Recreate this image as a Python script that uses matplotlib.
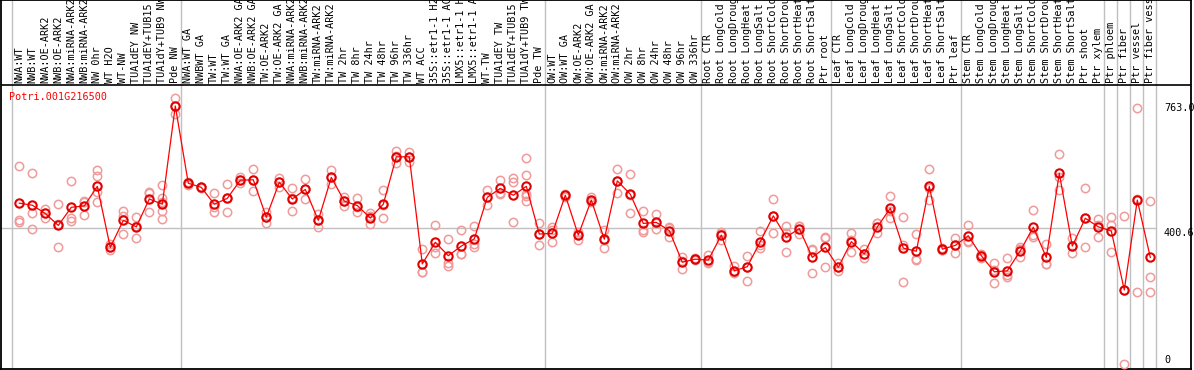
import matplotlib
matplotlib.use('Agg')
import matplotlib.pyplot as plt

# ---------------- data ----------------
title = "Potri.001G216500"
labels = [
    "NWA:WT", "NWB:WT", "NWA:OE-ARK2", "NWB:OE-ARK2", "NWA:miRNA-ARK2", "NWB:miRNA-ARK2",
    "NW 0hr", "WT H2O", "WT-NW", "TUA1dEY NW", "TUA1dEY+TUB15 NW", "TUA1dY+TUB9 NW", "Pde NW",
    "NWA:WT GA", "NWBWT GA", "TW:WT", "TW:WT GA", "NWA:OE-ARK2 GA", "NWB:OE-ARK2 GA",
    "TW:OE-ARK2", "TW:OE-ARK2 GA", "NWA:miRNA-ARK2 GA", "NWB:miRNA-ARK2 GA", "TW:miRNA-ARK2",
    "TW:miRNA-ARK2 GA", "TW 2hr", "TW 8hr", "TW 24hr", "TW 48hr", "TW 96hr", "TW 336hr",
    "WT ACC", "35S::etr1-1 H2O", "35S::etr1-1 ACC", "LMX5::etr1-1 H2O", "LMX5::etr1-1 ACC",
    "WT-TW", "TUA1dEY TW", "TUA1dEY+TUB15 TW", "TUA1dY+TUB9 TW", "Pde TW",
    "OW:WT", "OW:WT GA", "OW:OE-ARK2", "OW:OE-ARK2 GA", "OW:miRNA-ARK2", "OW:miRNA-ARK2 GA",
    "OW 2hr", "OW 8hr", "OW 24hr", "OW 48hr", "OW 96hr", "OW 336hr",
    "Root CTR", "Root LongCold", "Root LongDrought", "Root LongHeat", "Root LongSalt",
    "Root ShortCold", "Root ShortDrought", "Root ShortHeat", "Root ShortSalt", "Ptr root",
    "Leaf CTR", "Leaf LongCold", "Leaf LongDrought", "Leaf LongHeat", "Leaf LongSalt",
    "Leaf ShortCold", "Leaf ShortDrought", "Leaf ShortHeat", "Leaf ShortSalt", "Ptr leaf",
    "Stem CTR", "Stem LongCold", "Stem LongDrought", "Stem LongHeat", "Stem LongSalt",
    "Stem ShortCold", "Stem ShortDrought", "Stem ShortHeat", "Stem ShortSalt", "Ptr shoot",
    "Ptr xylem", "Ptr phloem", "Ptr fiber", "Ptr vessel", "Ptr fiber vessel",
]

means = [
    472, 466, 442, 407, 460, 464, 521, 343, 422, 403, 484, 469, 755,
    530, 518, 469, 486, 539, 540, 431, 533, 484, 512, 422, 547, 478, 465, 429, 469, 607, 607,
    295, 358, 319, 347, 368, 489, 515, 495, 521, 382,
    384, 495, 379, 481, 367, 537, 498, 413, 416, 392, 300, 309,
    306, 379, 275, 287, 360, 435, 373, 398, 314, 343,
    285, 360, 324, 403, 457, 341, 332, 521, 338, 349,
    377, 319, 272, 275, 333, 402, 314, 559, 347, 428,
    403, 391, 219, 481, 314,
]

replicates = [
    [579, 422, 416], [560, 442, 396], [454, 442, 430], [469, 410, 343], [537, 430, 420],
    [479, 474, 438], [569, 550, 505, 475], [352, 343, 335], [450, 436, 381], [432, 406, 370],
    [504, 503, 445], [524, 486, 476, 450, 427], [778, 755, 732],
    [535, 530, 525], [520, 518, 515], [501, 460, 445], [527, 486, 445], [547, 540, 530],
    [571, 540, 507], [447, 431, 415], [546, 533, 520], [515, 488, 449], [542, 512, 484],
    [440, 422, 403], [569, 547, 527], [491, 479, 464], [487, 460, 447], [443, 434, 410],
    [510, 466, 430], [624, 610, 588], [622, 607, 593],
    [338, 272, 272], [408, 345, 326], [368, 297, 290], [394, 324, 323], [406, 353, 345],
    [510, 489, 467], [540, 502, 498], [544, 535, 416], [603, 553, 500, 493, 479], [413, 382, 350],
    [403, 394, 358], [499, 495, 490], [389, 383, 365], [491, 478, 475], [394, 364, 342],
    [571, 538, 501], [556, 495, 443], [449, 394, 389], [440, 413, 396], [402, 400, 373],
    [316, 303, 279], [312, 309, 306],
    [321, 300, 297], [389, 383, 365], [290, 272, 268], [319, 287, 246], [391, 349, 341],
    [484, 436, 384], [406, 384, 331], [406, 405, 382], [338, 336, 269], [373, 370, 286],
    [297, 285, 273], [384, 365, 331], [338, 323, 311], [413, 413, 384], [492, 449, 430],
    [431, 350, 242], [381, 309, 305], [571, 515, 481], [340, 337, 336], [370, 350, 328],
    [408, 362, 360], [325, 320, 312], [299, 278, 240], [311, 263, 256], [345, 338, 316],
    [452, 379, 374], [353, 295, 294], [614, 547, 510], [370, 347, 326], [515, 428, 343],
    [426, 408, 373], [431, 408, 329], [435, 219, 4], [748, 483, 212], [478, 256, 212],
]

group_ends = [-1, 12, 40, 52, 62, 72, 83, 84, 85, 86, 87]
ref_value = 400.6
max_label = "763.0"
max_value = 763.0

# ---------------- figure ----------------
W, H = 1194, 370
fig = plt.figure(figsize=(W / 100, H / 100), dpi=100)
fig.patch.set_facecolor('white')

# pixel geometry helpers (x: category index, y: value)
x0_px, dx_px = 19.3, 13.0
y0_px, dy_px = 365.2, 0.3433


def vy(py):
    return (y0_px - py) / dy_px


def ix(px):
    return (px - x0_px) / dx_px


ax = fig.add_axes([1 / W, 1 / H, 1190 / W, 369 / H])
ax.set_xlim(ix(1), ix(1191))
ax.set_ylim(vy(369), vy(0))
ax.set_xticks([])
ax.set_yticks([])
for s in ax.spines.values():
    s.set_color('black')
    s.set_linewidth(1.3)

mono = 'DejaVu Sans Mono'

# group separators
for g in group_ends:
    ax.axvline(g + 0.4, color='#c0c0c0', lw=1.0, zorder=1)

# reference horizontal line
ax.plot([ix(1), group_ends[-1] + 0.4], [ref_value, ref_value], color='#c0c0c0', lw=1.0, zorder=1)

# separator between labels and plot
ax.axhline(vy(85.3), color='black', lw=1.2, zorder=2)

# replicates
for i, reps in enumerate(replicates):
    ax.plot([i] * len(reps), reps, linestyle='none', marker='o', ms=6.0,
            mfc='none', mec='#f09a9a', mew=1.1, zorder=3)

# means line and markers
xs = list(range(len(means)))
ax.plot(xs, means, color='#ff0000', lw=0.9, zorder=4)
ax.plot(xs, means, linestyle='none', marker='o', ms=6.0, mfc='none',
        mec='#e00000', mew=1.5, zorder=5)

# category labels (rotated, truncated at top by figure edge)
for i, lab in enumerate(labels):
    ax.text(i, vy(83), lab, rotation=90, ha='center', va='bottom',
            fontsize=7.3, family=mono, color='black', zorder=6)

# title
ax.text(ix(9.3), vy(96.5), title, ha='left', va='center', fontsize=7.3,
        family=mono, color='#ff0000', zorder=6)

# right side value labels
xr = ix(1164)
ax.text(xr, max_value, max_label, ha='left', va='top', fontsize=7.3, family=mono, color='black')
ax.text(xr, ref_value, f"{ref_value:.1f}", ha='left', va='top', fontsize=7.3, family=mono, color='black')
ax.text(xr, 0, "0", ha='left', va='bottom', fontsize=7.3, family=mono, color='black')

fig.savefig('out.png', dpi=100)
